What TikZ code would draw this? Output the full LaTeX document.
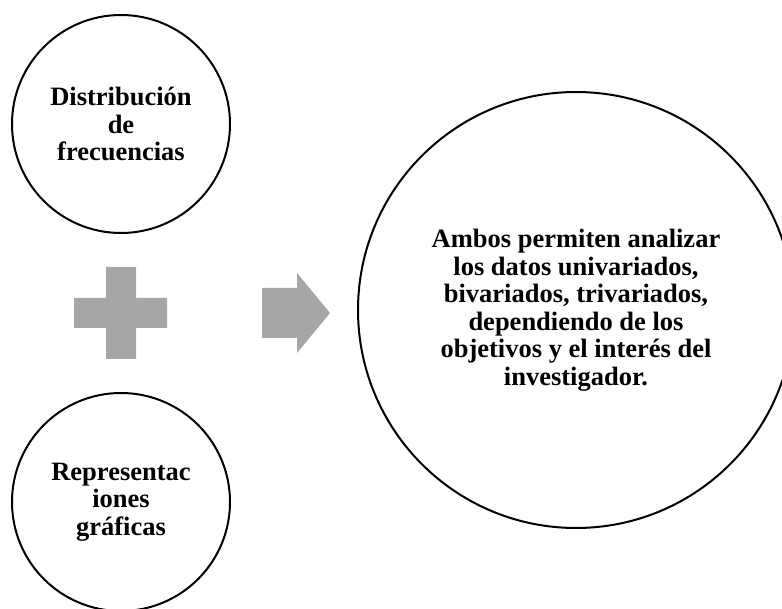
\documentclass[tikz,border=0pt]{standalone}
\usepackage{fontspec}
\setmainfont{Liberation Serif}
\usetikzlibrary{positioning}
\definecolor{grisforma}{RGB}{166,166,166}
\tikzset{
	every node/.style={
		font=\bfseries\fontsize{26.5}{27.5}\selectfont
	},
	circulo/.style={
		shape=circle,
		draw,
		line width=2pt,
		minimum size=218pt,
		inner sep=0pt,
		align=center
	},
	circulo grande/.style={
		circulo,
		minimum size=436pt
	},
	forma/.style={
		fill=grisforma
	}
}
\begin{document}
\begin{tikzpicture}[x=1pt,y=-1pt]
	
	\useasboundingbox (0,0) rectangle (782,609);
	
	\node[circulo] (distribucion) at (121,124) {Distribución\\de\\frecuencias};
	\node[circulo] (representaciones) at (121,502) {Representac\\iones\\gráficas};
	\node[circulo grande] (ambos) at (576,310) {Ambos permiten analizar\\los datos univariados,\\bivariados, trivariados,\\dependiendo de los\\objetivos y el interés del\\investigador.};
	
	% signo mas y flecha
	\coordinate (mas) at (121,313);
	\coordinate (flecha) at (262,313);
	\fill[forma, shift={(mas)}] (-15,-46) rectangle (15,46) (-47,-15) rectangle (46,15);
	\fill[forma, shift={(flecha)}] (0,-25) -- (35,-25) -- (35,-40) -- (68,0) -- (35,40) -- (35,25) -- (0,25) -- cycle;
	
\end{tikzpicture}
\end{document}
